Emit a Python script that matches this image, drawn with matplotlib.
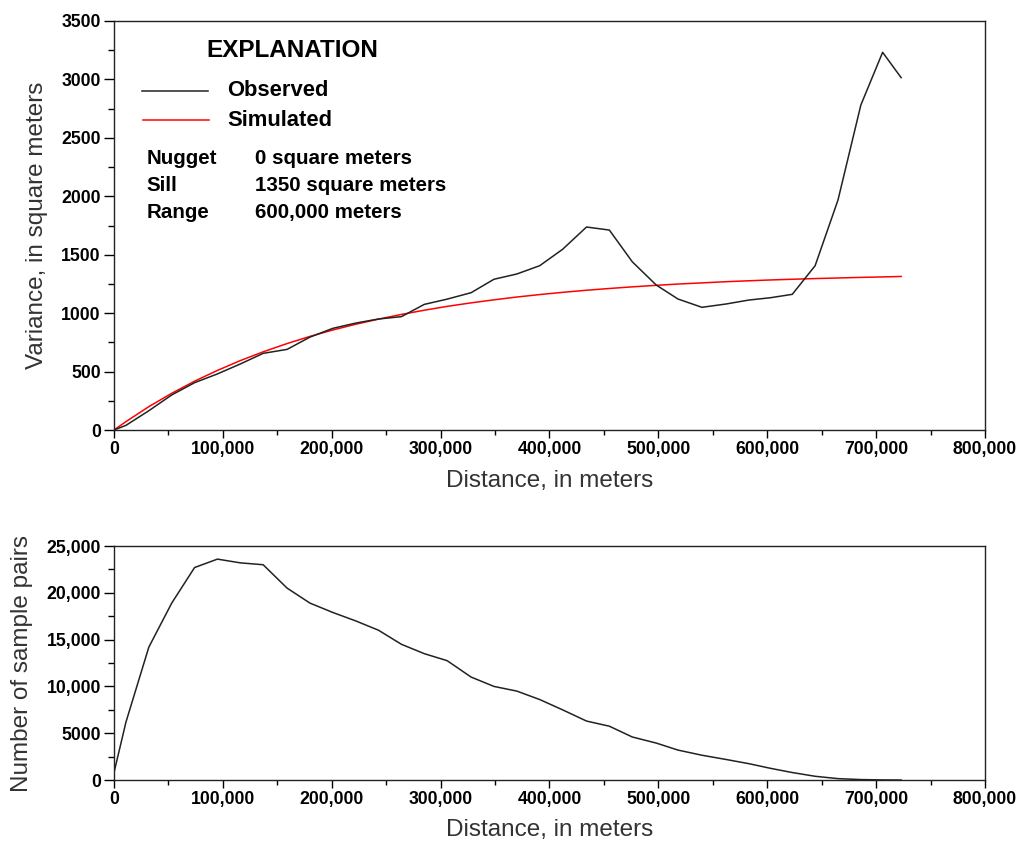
import matplotlib
matplotlib.use("Agg")
import matplotlib.pyplot as plt
from matplotlib.ticker import MultipleLocator

plt.rcParams['font.family'] = ['Liberation Sans', 'DejaVu Sans']

# lag distances, in meters
dist = [0, 11000, 32000, 53000, 74000, 95000, 116000, 137000, 159000, 180000,
        201000, 222000, 243000, 264000, 285000, 306000, 328000, 349000, 370000,
        391000, 412000, 434000, 455000, 476000, 498000, 518000, 540000, 562000,
        583000, 603000, 623000, 644000, 665000, 686000, 706000, 723000]

# observed semivariance, square meters
observed = [0, 40, 165, 300, 405, 480, 565, 656, 690, 795,
            870, 915, 950, 970, 1075, 1120, 1175, 1290, 1335,
            1406, 1546, 1737, 1711, 1440, 1241, 1121, 1050, 1078,
            1112, 1132, 1161, 1406, 1968, 2781, 3232, 3015]

# simulated (model) semivariance
simulated = [0, 72, 200, 314, 418, 510, 594, 669, 740, 801,
             856, 905, 949, 989, 1025, 1058, 1088, 1114, 1138,
             1159, 1178, 1196, 1211, 1225, 1238, 1249, 1259, 1269,
             1277, 1284, 1290, 1296, 1301, 1306, 1310, 1314]

# number of sample pairs per lag
pairs = [800, 6200, 14200, 18900, 22700, 23600, 23200, 23000, 20500, 18900,
         17900, 17000, 16000, 14500, 13500, 12750, 11000, 10000, 9500,
         8600, 7500, 6300, 5750, 4600, 3950, 3200, 2650, 2200,
         1750, 1250, 800, 400, 150, 50, 10, 0]

x_ticks = [0, 100000, 200000, 300000, 400000, 500000, 600000, 700000, 800000]
x_labels = ['0', '100,000', '200,000', '300,000', '400,000', '500,000',
            '600,000', '700,000', '800,000']
var_ticks = [0, 500, 1000, 1500, 2000, 2500, 3000, 3500]
var_labels = ['0', '500', '1000', '1500', '2000', '2500', '3000', '3500']
pair_ticks = [0, 5000, 10000, 15000, 20000, 25000]
pair_labels = ['0', '5000', '10,000', '15,000', '20,000', '25,000']

params = [('Nugget', '0 square meters'),
          ('Sill', '1350 square meters'),
          ('Range', '600,000 meters')]

label_color = '#333333'
label_size = 17.5

fig = plt.figure(figsize=(10.17, 8.43), dpi=100)
ax1 = fig.add_axes([0.1121, 0.4899, 0.8564, 0.4852])
ax2 = fig.add_axes([0.1121, 0.0747, 0.8564, 0.2776])


def style_axis(ax, yticks, ylabels, yminor):
    ax.set_xlim(0, 800000)
    ax.set_xticks(x_ticks)
    ax.set_xticklabels(x_labels)
    ax.xaxis.set_minor_locator(MultipleLocator(50000))
    ax.set_ylim(yticks[0], yticks[-1])
    ax.set_yticks(yticks)
    ax.set_yticklabels(ylabels)
    ax.yaxis.set_minor_locator(MultipleLocator(yminor))
    ax.tick_params(which='both', direction='out', width=1.0, colors='black')
    ax.tick_params(axis='x', which='major', length=6, pad=2)
    ax.tick_params(axis='x', which='minor', length=3.5)
    ax.tick_params(axis='y', which='major', length=7.5, pad=2)
    ax.tick_params(axis='y', which='minor', length=4)
    for lab in ax.get_xticklabels() + ax.get_yticklabels():
        lab.set_fontweight('bold')
        lab.set_fontsize(12.7)
    for sp in ax.spines.values():
        sp.set_linewidth(1.0)
        sp.set_color('#222222')


style_axis(ax1, var_ticks, var_labels, 250)
style_axis(ax2, pair_ticks, pair_labels, 2500)

ax1.plot(dist, simulated, color='#ff0000', lw=1.1)
ax1.plot(dist, observed, color='#222222', lw=1.1)
ax2.plot(dist, pairs, color='#222222', lw=1.1)

ax1.set_xlabel('Distance, in meters', fontsize=label_size, color=label_color)
ax1.set_ylabel('Variance, in square meters', fontsize=label_size, color=label_color)
ax1.xaxis.set_label_coords(0.5, -0.098)
ax1.yaxis.set_label_coords(-0.0758, 0.5)

ax2.set_xlabel('Distance, in meters', fontsize=label_size, color=label_color)
ax2.set_ylabel('Number of sample pairs', fontsize=label_size, color=label_color)
ax2.xaxis.set_label_coords(0.5, -0.165)
ax2.yaxis.set_label_coords(-0.093, 0.5)

# explanation box
ax1.text(0.1056, 0.929, 'EXPLANATION', transform=ax1.transAxes, fontsize=17.5,
         fontweight='bold', va='center', ha='left')
ax1.plot([0.032, 0.108], [0.829, 0.829], transform=ax1.transAxes,
         color='#222222', lw=1.1)
ax1.plot([0.033, 0.109], [0.757, 0.757], transform=ax1.transAxes,
         color='#ff0000', lw=1.1)
ax1.text(0.130, 0.829, 'Observed', transform=ax1.transAxes, fontsize=15.8,
         fontweight='bold', va='center', ha='left')
ax1.text(0.130, 0.757, 'Simulated', transform=ax1.transAxes, fontsize=15.8,
         fontweight='bold', va='center', ha='left')
for i, (name, val) in enumerate(params):
    yy = 0.665 - i * 0.066
    ax1.text(0.037, yy, name, transform=ax1.transAxes, fontsize=14.8,
             fontweight='bold', va='center', ha='left')
    ax1.text(0.162, yy, val, transform=ax1.transAxes, fontsize=14.8,
             fontweight='bold', va='center', ha='left')

fig.savefig('out.png', dpi=100)
